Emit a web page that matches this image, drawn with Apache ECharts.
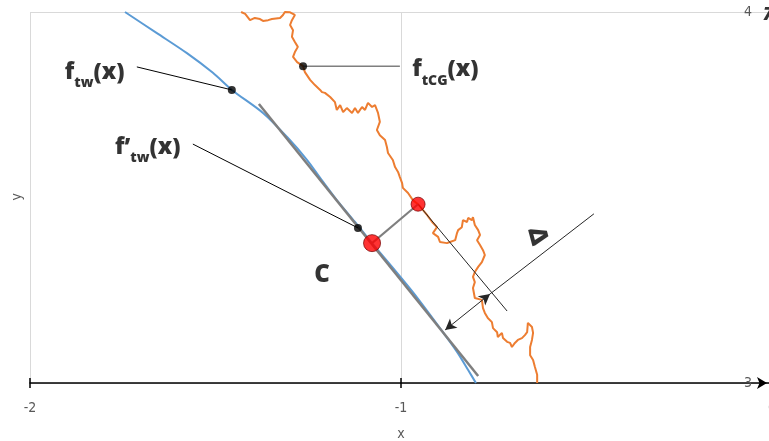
<!DOCTYPE html>
<html>
<head>
<meta charset="utf-8">
<script src="https://cdn.jsdelivr.net/npm/echarts@6/dist/echarts.min.js"></script>
<style>
html,body{margin:0;padding:0;background:#fff;}
#chart{width:769px;height:441px;}
</style>
</head>
<body>
<div id="chart"></div>
<script>
// ---- data (data units) ----
const xTicks = [-2, -1, 0];
const yTicks = [3, 4];

const ftw = [[-1.744,4.000],[-1.658,3.943],[-1.577,3.889],[-1.507,3.836],[-1.456,3.790],[-1.372,3.728],[-1.307,3.663],[-1.253,3.601],[-1.218,3.553],[-1.173,3.493],[-1.124,3.434],[-1.078,3.377],[-1.024,3.313],[-0.968,3.245],[-0.895,3.148],[-0.849,3.084],[-0.819,3.035],[-0.798,3.000]];

const ftCG = [[-1.431,4.000],[-1.420,3.995],[-1.407,3.978],[-1.402,3.973],[-1.394,3.984],[-1.380,3.981],[-1.372,3.976],[-1.358,3.978],[-1.348,3.981],[-1.326,3.984],[-1.318,3.992],[-1.313,4.000],[-1.299,3.999],[-1.286,3.992],[-1.294,3.978],[-1.299,3.965],[-1.291,3.951],[-1.294,3.933],[-1.286,3.919],[-1.278,3.906],[-1.286,3.892],[-1.291,3.879],[-1.280,3.865],[-1.264,3.854],[-1.259,3.838],[-1.245,3.817],[-1.232,3.803],[-1.218,3.790],[-1.213,3.784],[-1.205,3.782],[-1.191,3.771],[-1.178,3.757],[-1.173,3.736],[-1.164,3.749],[-1.156,3.730],[-1.146,3.741],[-1.132,3.728],[-1.124,3.741],[-1.116,3.728],[-1.105,3.744],[-1.097,3.736],[-1.089,3.755],[-1.078,3.744],[-1.070,3.749],[-1.062,3.728],[-1.057,3.704],[-1.065,3.682],[-1.057,3.668],[-1.043,3.655],[-1.038,3.636],[-1.035,3.620],[-1.022,3.601],[-1.016,3.582],[-1.008,3.569],[-1.003,3.555],[-0.997,3.539],[-0.995,3.526],[-0.981,3.512],[-0.968,3.493],[-0.954,3.482],[-0.930,3.453],[-0.916,3.434],[-0.903,3.420],[-0.914,3.404],[-0.900,3.394],[-0.895,3.380],[-0.876,3.377],[-0.868,3.380],[-0.854,3.385],[-0.849,3.404],[-0.846,3.412],[-0.836,3.420],[-0.833,3.439],[-0.822,3.434],[-0.819,3.445],[-0.809,3.439],[-0.806,3.447],[-0.801,3.426],[-0.792,3.412],[-0.787,3.399],[-0.795,3.385],[-0.787,3.372],[-0.779,3.358],[-0.774,3.345],[-0.782,3.326],[-0.792,3.313],[-0.801,3.299],[-0.806,3.286],[-0.801,3.272],[-0.806,3.256],[-0.801,3.229],[-0.782,3.224],[-0.779,3.202],[-0.774,3.189],[-0.766,3.175],[-0.755,3.164],[-0.752,3.148],[-0.741,3.137],[-0.739,3.124],[-0.728,3.135],[-0.725,3.121],[-0.714,3.111],[-0.706,3.108],[-0.701,3.097],[-0.693,3.108],[-0.685,3.116],[-0.674,3.121],[-0.666,3.129],[-0.660,3.137],[-0.658,3.162],[-0.647,3.151],[-0.644,3.135],[-0.647,3.116],[-0.652,3.097],[-0.652,3.075],[-0.644,3.062],[-0.639,3.043],[-0.633,3.022],[-0.633,3.000]];

const tangentLine = [[-1.383,3.752],[-0.792,3.019]];
const pointC = [[-1.078,3.377]];
const pointCG = [[-0.954,3.482]];
const blackDots = [[-1.456,3.790],[-1.264,3.854],[-1.116,3.418]];
const leaderFtw = [[-1.712,3.852],[-1.456,3.790]];
const leaderFdtw = [[-1.561,3.644],[-1.116,3.418]];
const leaderFtCG = [[-1.264,3.854],[-1.003,3.854]];
const normalLine = [[-0.954,3.482],[-0.714,3.194]];
const deltaArrow = [[-0.881,3.143],[-0.760,3.240]];
const deltaExt = [[-0.760,3.240],[-0.480,3.456]];

const labelTexts = ['{f|f}{s|tw}{f|(x)}', '{f|f\u2019}{s|tw}{f|(x)}', '{f|f}{s|tCG}{f|(x)}', 'C', '\u0394', '7'];
const labelAnchors = [[-1.906,3.838],[-1.771,3.636],[-0.970,3.844],[-1.213,3.291],[-0.633,3.396],[-0.024,3.992]];

// ---- chart ----
const chart = echarts.init(document.getElementById('chart'), null, {renderer:'canvas'});
const gray = '#7f7f7f';
const FONT = 'Open Sans';
const AXF = 'DejaVu Sans Condensed';
const W = 800;
const rich = {
  f:{fontSize:23,fontWeight:W,fontFamily:FONT,color:'#000',lineHeight:28},
  s:{fontSize:14,fontWeight:W,fontFamily:FONT,color:'#000',lineHeight:14,verticalAlign:'bottom',padding:[0,0,-4,0]}
};
function seg(data, color, width, z){
  return {type:'line', data:data, symbol:'none', silent:true, z:z||3,
    lineStyle:{color:color,width:width}, clip:true};
}
const annData = labelAnchors.map((p,i)=>{
  const base = {value:p, label:{show:true, formatter:labelTexts[i], rich:rich, color:'#000', position:'right', distance:0}};
  if(i===3) base.label = {show:true, formatter:'C', position:'inside', fontSize:24, fontWeight:W, fontFamily:FONT, color:'#000'};
  if(i===4) base.label = {show:true, formatter:'\u0394', position:'inside', fontSize:25, fontWeight:W, fontFamily:FONT, color:'#000', rotate:-75};
  if(i===5) base.label = {show:true, formatter:'7', position:'right', distance:0, fontSize:17, fontWeight:W, fontStyle:'italic', fontFamily:FONT, color:'#000'};
  return base;
});

chart.setOption({
  animation:false,
  backgroundColor:'#fff',
  grid:{left:30, top:12, width:742, height:371, containLabel:false, outerBoundsMode:'none'},
  xAxis:[{
    type:'value', min:xTicks[0], max:xTicks[xTicks.length-1], interval:1,
    name:'x', nameLocation:'middle', nameGap:44,
    nameTextStyle:{color:'#595959', fontSize:14, fontFamily:AXF},
    axisLine:{show:true, lineStyle:{color:'#000', width:1.5}, symbol:['none','arrow'], symbolSize:[9,10], symbolOffset:[0,-5]},
    axisTick:{show:true, length:5, lineStyle:{color:'#000', width:1.5}},
    axisLabel:{color:'#595959', fontSize:14, margin:18, fontFamily:AXF, formatter:v=>String(v)},
    splitLine:{show:true, lineStyle:{color:'#d9d9d9', width:1}}
  },{
    type:'value', min:xTicks[0], max:xTicks[xTicks.length-1], interval:1, position:'bottom',
    axisLine:{show:false}, axisLabel:{show:false}, splitLine:{show:false},
    axisTick:{show:true, inside:true, length:5, lineStyle:{color:'#000', width:1.5}}
  }],
  yAxis:{
    type:'value', min:yTicks[0], max:yTicks[yTicks.length-1], interval:1, position:'right',
    axisLine:{show:false}, axisTick:{show:false},
    axisLabel:{inside:true, margin:20, color:'#595959', fontSize:14, fontFamily:AXF},
    splitLine:{show:true, lineStyle:{color:'#d9d9d9', width:1}}
  },
  graphic:[{type:'text', left:10, top:193, rotation:Math.PI/2,
    style:{text:'y', fill:'#595959', fontSize:14, fontFamily:AXF}}],
  series:[
    Object.assign(seg(ftw, '#5b9bd5', 2, 2), {smooth:0.3}),
    seg(ftCG, '#ed7d31', 2, 2),
    seg(tangentLine, gray, 2.5, 3),
    seg(leaderFtw, '#000', 1, 4),
    seg(leaderFdtw, '#000', 1, 4),
    seg(leaderFtCG, gray, 1.5, 4),
    seg(normalLine, '#262626', 1, 4),
    seg(pointC.concat(pointCG), gray, 2, 4),
    Object.assign(seg(deltaExt, '#262626', 1, 4), {
      markLine:{silent:true, symbol:['arrow','arrow'], symbolSize:[9,11], label:{show:false},
        lineStyle:{color:'#262626', width:1, type:'solid'},
        data:[[{coord:deltaArrow[0]},{coord:deltaArrow[1]}]]}
    }),
    {type:'scatter', data:blackDots, symbol:'circle', symbolSize:8, z:6, silent:true,
      itemStyle:{color:'#000'}},
    {type:'scatter', data:pointC, symbol:'circle', symbolSize:17, z:7, silent:true,
      itemStyle:{color:'#ff0000', borderColor:'#7f1010', borderWidth:1}},
    {type:'scatter', data:pointCG, symbol:'circle', symbolSize:14, z:7, silent:true,
      itemStyle:{color:'#ff0000', borderColor:'#7f1010', borderWidth:1}},
    {type:'scatter', data:annData, symbolSize:0, z:8, silent:true, clip:false}
  ]
});
</script>
</body>
</html>
